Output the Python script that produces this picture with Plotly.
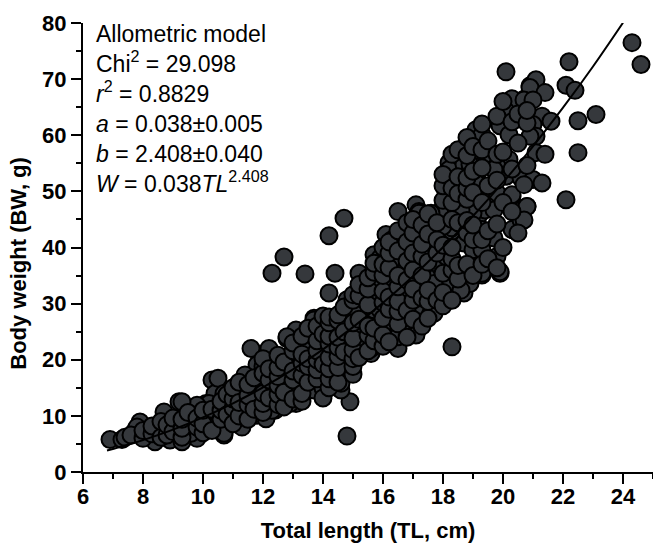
import plotly.graph_objects as go

# ---- Fitted model parameters (from the chart) ----
a_coef = 0.038
b_coef = 2.408
curve_tl = [6.8, 7.5, 8, 9, 10, 11, 12, 13, 14, 15, 16, 17, 18, 19, 20, 21, 22, 23, 24.0]

# ---- Observed fish: total length (cm) and body weight (g), read from the picture ----
# outlying / clearly visible points
tl_a = [6.9, 7.3, 7.7, 7.9, 7.8, 8.2, 8.6, 8.7, 8.9, 9.2, 9.2, 9.4, 9.7, 9.9, 10.1, 10.3, 10.4, 9.8, 10.2, 10.5,
        8.9, 8.4, 9.3, 10.7, 10.3, 10.5,
        11.6, 12.2, 12.8, 13.1, 11.8, 12.4, 12.9, 11.4, 11.9, 12.2, 12.7, 11.1, 11.7, 10.7, 10.9, 11.4, 11.9, 12.4,
        10.2, 9.8, 9.3, 9.6, 10.0, 10.3, 10.7, 11.2, 11.8, 12.1, 9.6, 10.1, 10.7, 11.3, 13.0, 13.1, 13.4, 13.7,
        13.9, 13.2, 11.7, 10.8]
bw_a = [5.8, 5.8, 7.1, 8.9, 8.0, 6.3, 7.8, 10.7, 7.1, 12.5, 6.6, 8.9, 7.4, 11.6, 12.2, 16.4, 14.0, 6.0, 9.8, 8.0,
        5.7, 5.4, 5.4, 6.6, 8.6, 16.7,
        22.0, 22.0, 23.8, 25.3, 19.1, 19.6, 19.9, 17.3, 16.4, 15.2, 17.6, 14.9, 14.6, 14.0, 12.8, 11.3, 12.5, 11.0,
        12.2, 11.9, 12.5, 8.9, 10.1, 9.8, 8.9, 9.2, 10.1, 9.5, 6.9, 8.3, 6.9, 8.0, 14.6, 12.2, 22.6, 27.4,
        14.9, 14.9, 10.4, 12.2]

tl_b = [14.7, 14.2, 12.7, 12.3, 13.4, 14.4, 15.2, 14.2, 14.9, 14.8,
        15.7, 15.2, 14.9, 14.6, 14.6, 15.0, 15.4, 15.7, 15.4, 15.6, 15.1, 14.8, 14.6, 14.8, 14.3, 13.9, 13.7, 13.4,
        12.8, 12.9, 13.2, 12.4, 12.0, 12.7, 13.2, 13.7, 14.1, 14.6, 12.3, 12.9, 11.9, 14.6, 14.0]
bw_b = [45.2, 42.1, 38.3, 35.4, 35.3, 35.4, 35.4, 31.9, 12.5, 6.4,
        31.9, 29.5, 27.7, 28.3, 25.9, 25.3, 27.1, 28.9, 22.9, 21.1, 22.9, 22.9, 17.0, 19.9, 21.7, 25.3, 27.1, 22.9,
        24.1, 20.2, 18.2, 19.4, 18.8, 15.8, 15.2, 14.6, 17.0, 14.6, 11.0, 12.2, 13.4, 15.8, 14.9]

tl_c = [16.5, 17.1, 17.2, 17.9, 18.2, 18.2, 18.1, 18.4, 16.1, 16.3, 16.7, 17.3, 17.4, 18.1, 18.3, 15.7, 15.9,
        16.4, 16.7, 17.2, 17.3, 17.8, 18.2, 15.7, 16.2, 16.8, 17.3, 17.6, 16.3, 16.7, 14.8, 15.0, 15.9, 16.1,
        16.5, 17.1, 15.2, 18.3, 16.5, 17.1, 17.7, 15.6, 18.7, 19.9, 19.3, 16.6, 16.5]
bw_c = [46.4, 47.6, 46.4, 46.4, 55.1, 52.4, 50.0, 52.7, 42.3, 41.4, 39.6, 41.4, 43.8, 38.4, 42.9, 38.7, 38.1,
        37.5, 35.7, 36.6, 33.3, 34.8, 33.3, 33.0, 33.9, 31.9, 29.5, 28.3, 30.7, 26.8, 30.7, 28.9, 28.9, 25.9,
        24.7, 24.7, 25.0, 22.3, 22.0, 24.4, 28.3, 22.0, 31.9, 35.4, 35.1, 27.1, 24.1]

tl_d = [20.1, 20.9, 20.7, 21.1, 20.3, 20.1, 19.9, 20.2, 19.1, 19.3, 18.8, 18.8, 19.4, 20.2, 20.1, 19.8, 18.2,
        18.7, 18.9, 18.1, 19.2, 19.1, 19.6, 19.8, 20.6, 20.3, 20.8, 19.2, 18.9, 19.4, 19.7, 20.3, 20.6, 19.7,
        17.9, 17.6, 17.3, 18.3, 18.0, 18.7, 19.0, 19.3, 19.8, 19.9, 19.3, 18.9, 18.2, 18.6, 17.9, 18.1, 17.4,
        17.3, 17.7, 19.7, 20.3, 19.3, 19.0, 18.6, 17.2, 18.2, 19.1]
bw_d = [71.3, 68.8, 66.4, 67.6, 66.5, 64.3, 61.7, 60.1, 61.0, 60.1, 58.3, 58.0, 56.6, 55.7, 52.7, 54.5, 53.9,
        54.8, 54.8, 50.3, 51.5, 52.7, 49.1, 49.7, 52.4, 49.1, 47.3, 45.8, 46.7, 46.7, 46.7, 43.2, 44.9, 41.7,
        46.1, 46.1, 46.1, 43.5, 43.8, 40.8, 39.6, 39.6, 38.4, 35.7, 35.4, 33.6, 33.3, 32.4, 36.6, 38.4, 39.6,
        36.6, 33.6, 53.9, 49.4, 43.2, 46.1, 46.7, 46.1, 50.0, 51.5]

tl_e = [24.3, 24.6, 22.2, 22.1, 22.4, 23.1, 22.5, 22.5, 22.1, 21.1, 20.9, 21.4, 20.7, 21.0, 21.3, 21.6, 21.0,
        21.1, 20.9, 21.1, 21.4, 21.0, 21.3, 20.7, 20.8, 20.7]
bw_e = [76.5, 72.6, 73.1, 68.9, 68.0, 63.7, 62.6, 56.9, 48.5, 69.9, 68.5, 67.6, 66.3, 66.3, 63.4, 62.5, 61.9,
        59.8, 59.8, 56.9, 56.6, 52.1, 51.5, 51.2, 47.3, 44.9]

# dense core of the cloud
tl_f = [7.4, 7.6, 8.0, 8.0, 8.3, 8.3, 8.6, 8.6, 8.8, 8.8, 9.0, 9.0, 9.3, 9.3, 9.3, 9.5, 9.8, 9.8,
        10.0, 10.0, 10.0, 10.3, 10.3, 10.6, 10.6, 10.6, 10.8, 10.8, 11.0, 11.0, 11.0, 11.0, 11.2, 11.2, 11.2,
        11.5, 11.5, 11.5, 11.5, 11.7, 11.7, 12.0, 12.0, 12.0, 12.0, 12.0, 12.2, 12.2, 12.2,
        12.5, 12.5, 12.5, 12.5, 12.5, 12.5, 12.7, 12.7, 12.7, 13.0, 13.0, 13.0, 13.0, 13.0,
        13.3, 13.3, 13.3, 13.3, 13.3, 13.3, 13.5, 13.5, 13.5, 13.5, 13.8, 13.8, 13.8, 13.8, 13.8, 13.8,
        14.0, 14.0, 14.0, 14.0, 14.2, 14.2, 14.2, 14.2, 14.2, 14.2, 14.2, 14.2,
        14.5, 14.5, 14.5, 14.5, 14.5, 14.5, 14.5, 14.7, 14.7, 14.7]
bw_f = [6.2, 6.6, 6.0, 7.4, 6.8, 8.2, 6.2, 9.0, 6.6, 8.4, 7.2, 9.6, 6.2, 7.8, 9.4, 10.6, 8.0, 9.6,
        7.0, 8.6, 11.0, 7.4, 11.2, 9.4, 11.0, 12.6, 10.2, 13.8, 8.6, 11.4, 13.0, 15.0, 10.0, 12.4, 16.0,
        9.4, 12.0, 13.6, 15.6, 11.2, 16.8, 10.6, 12.2, 14.0, 17.6, 20.2, 13.2, 16.4, 18.4,
        12.0, 13.8, 15.4, 17.0, 18.6, 20.8, 11.6, 14.2, 19.6, 13.0, 16.4, 18.0, 21.6, 23.0,
        12.6, 14.0, 17.2, 19.4, 21.0, 24.2, 16.0, 18.8, 20.2, 25.6, 16.6, 18.2, 20.0, 21.6, 23.4, 26.0,
        13.2, 19.2, 24.6, 27.8, 15.0, 16.6, 18.4, 20.4, 22.8, 24.2, 26.6, 27.6,
        16.0, 18.6, 20.6, 22.2, 24.0, 27.0, 28.0, 21.4, 25.0, 29.4]

tl_g = [15.0, 15.0, 15.0, 15.0, 15.0, 15.0, 15.0, 15.0, 15.2, 15.2, 15.2, 15.2,
        15.5, 15.5, 15.5, 15.5, 15.5, 15.5, 15.7, 15.7, 15.7, 15.7,
        16.0, 16.0, 16.0, 16.0, 16.0, 16.0, 16.0, 16.0, 16.2, 16.2, 16.2, 16.2, 16.2, 16.2,
        16.5, 16.5, 16.5, 16.5, 16.5, 16.5, 16.5, 16.8, 16.8, 16.8, 16.8, 16.8, 16.8,
        17.0, 17.0, 17.0, 17.0, 17.0, 17.0, 17.0, 17.3, 17.3, 17.3, 17.3, 17.3, 17.3,
        17.5, 17.5, 17.5, 17.5, 17.5, 17.5, 17.8, 17.8, 17.8, 17.8,
        18.0, 18.0, 18.0, 18.0, 18.0, 18.0, 18.0, 18.3, 18.3, 18.3, 18.3, 18.3, 18.3, 18.3, 18.3,
        18.5, 18.5, 18.5, 18.5, 18.5, 18.5, 18.8, 18.8, 18.8, 18.8, 18.8, 18.8, 18.8, 18.8,
        19.0, 19.0, 19.0, 19.0, 19.0, 19.0, 19.3, 19.3, 19.3, 19.3, 19.3, 19.3,
        19.5, 19.5, 19.5, 19.5, 19.8, 19.8, 19.8, 19.8, 19.8, 20.0, 20.0, 20.0, 20.0,
        20.3, 20.3, 20.3, 20.5, 20.5, 20.5, 20.8, 20.8, 20.8]
bw_g = [17.4, 18.8, 20.2, 21.8, 23.8, 26.6, 30.6, 31.6, 20.4, 27.2, 31.4, 33.4,
        21.6, 24.4, 26.0, 29.8, 32.6, 34.6, 23.4, 25.6, 35.6, 37.2,
        22.4, 24.4, 27.4, 30.2, 32.2, 35.0, 37.0, 40.0, 23.2, 29.0, 31.2, 36.4, 39.0, 41.0,
        26.4, 28.6, 30.4, 33.0, 35.0, 39.4, 43.0, 24.0, 28.8, 34.2, 37.6, 41.0, 44.4,
        27.2, 30.6, 32.6, 36.0, 39.0, 42.6, 45.0, 26.0, 31.0, 35.0, 38.4, 40.6, 44.0,
        27.4, 30.4, 32.4, 37.4, 42.4, 46.0, 30.6, 39.0, 41.4, 44.4,
        29.6, 32.0, 35.4, 40.4, 48.4, 51.0, 53.0, 30.6, 36.0, 38.0, 40.0, 45.0, 48.0, 50.6, 56.6,
        34.4, 36.8, 44.4, 49.6, 52.6, 57.4, 37.0, 42.6, 44.8, 48.6, 50.6, 52.4, 56.4, 59.6,
        35.0, 41.4, 44.0, 49.8, 53.6, 58.0, 37.0, 41.4, 48.0, 54.2, 57.4, 62.0,
        38.0, 43.0, 51.0, 59.0, 36.4, 44.2, 52.0, 56.6, 63.4, 40.0, 48.0, 57.0, 66.0,
        46.4, 54.0, 62.4, 42.6, 58.6, 63.8, 54.6, 62.2, 64.4]

total_length = tl_a + tl_b + tl_c + tl_d + tl_e + tl_f + tl_g
body_weight = bw_a + bw_b + bw_c + bw_d + bw_e + bw_f + bw_g

x_ticks = [6, 8, 10, 12, 14, 16, 18, 20, 22, 24]
y_ticks = [0, 10, 20, 30, 40, 50, 60, 70, 80]

curve_w = [a_coef * t ** b_coef for t in curve_tl]

fig = go.Figure()
fig.add_trace(go.Scatter(
    x=total_length, y=body_weight, mode="markers",
    marker=dict(size=17, color="#35383c", line=dict(color="#000000", width=2)),
    cliponaxis=False, showlegend=False, hoverinfo="x+y"))
fig.add_trace(go.Scatter(
    x=curve_tl, y=curve_w, mode="lines", line=dict(color="#000000", width=2, shape="spline"),
    cliponaxis=True, showlegend=False))

FONT = "Liberation Sans, Arial, sans-serif"
tick_font = dict(family=FONT, size=22, color="#000000")
title_font = dict(family=FONT, size=22, color="#000000")

fig.update_xaxes(
    range=[6, 25], tickvals=x_ticks, ticktext=[f"<b>{v}</b>" for v in x_ticks],
    ticks="outside", ticklen=10, tickwidth=2, tickcolor="#000", ticklabelstandoff=-6,
    showline=True, linecolor="#000", linewidth=2, mirror=False,
    showgrid=False, zeroline=False, tickfont=tick_font,
    minor=dict(dtick=1, tick0=7, ticks="outside", ticklen=5, tickwidth=2, tickcolor="#000", showgrid=False),
    title=dict(text="<b>Total length (TL, cm)</b>", font=title_font, standoff=14))
fig.update_yaxes(
    range=[0, 80], tickvals=y_ticks, ticktext=[f"<b>{v}</b>" for v in y_ticks],
    ticks="outside", ticklen=10, tickwidth=2, tickcolor="#000",
    showline=True, linecolor="#000", linewidth=2, mirror=False,
    showgrid=False, zeroline=False, tickfont=tick_font,
    minor=dict(dtick=5, tick0=5, ticks="outside", ticklen=5, tickwidth=2, tickcolor="#000", showgrid=False))

# y-axis title placed as a rotated annotation (sits a little below the plot centre in the reference)
fig.add_annotation(
    xref="paper", yref="paper", x=-0.1123, y=0.466, xanchor="center", yanchor="middle",
    textangle=-90, showarrow=False, text="<b>Body weight (BW, g)</b>", font=title_font)

fig.add_annotation(
    xref="paper", yref="paper", x=0.02, y=1.009, xanchor="left", yanchor="top", align="left",
    showarrow=False,
    text=("Allometric model<br>Chi<sup>2</sup> = 29.098<br><i>r</i><sup>2</sup> = 0.8829<br>"
          "<i>a</i> = 0.038±0.005<br><i>b</i> = 2.408±0.040<br><i>W</i> = 0.038<i>TL</i><sup>2.408</sup>"),
    font=dict(family=FONT, size=23, color="#000"))

fig.update_layout(
    width=653, height=545,
    margin=dict(l=83, r=0, t=23, b=73),
    plot_bgcolor="#ffffff", paper_bgcolor="#ffffff",
    showlegend=False)

# remove the default 8 px body margin so the figure fills the 653x545 window exactly
fig.write_html("out.html", config={"displayModeBar": False},
               post_script="document.body.style.margin='0';")
